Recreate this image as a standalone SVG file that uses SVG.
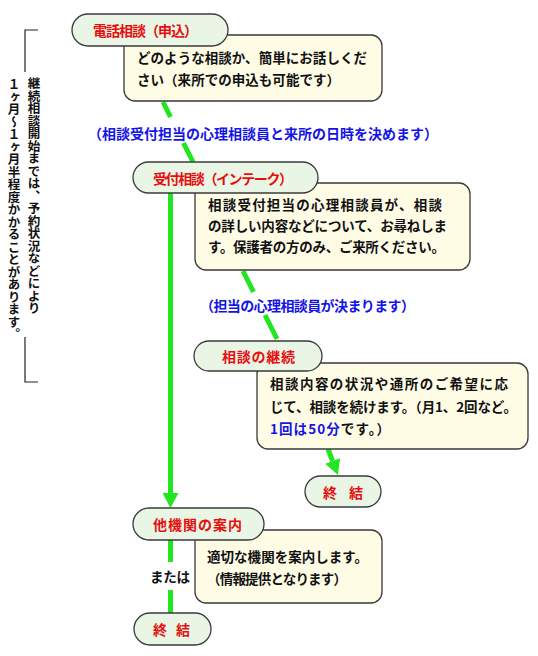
<svg xmlns="http://www.w3.org/2000/svg" width="538" height="656" viewBox="0 0 538 656">
<style>
.pill{fill:#e9f6e5;stroke:#3a3a3a;stroke-width:1.3}
.box{fill:#fffce6;stroke:#3a3a3a;stroke-width:1.3}
text{font-family:"Noto Sans CJK JP","Noto Sans CJK SC",sans-serif;font-weight:bold;dominant-baseline:central}
.red{fill:#e60f0f;font-size:14px}
.body{fill:#111;font-size:13.5px}
.blue{fill:#1414e6;font-size:14px}
.vt{fill:#111;font-size:12.5px;writing-mode:vertical-rl}
.ln{stroke:#22e622;stroke-width:5;fill:none}
.br{stroke:#222;stroke-width:1.2;fill:none}
</style>
<defs>
<marker id="ah" viewBox="0 0 15 16" refX="0" refY="8" markerWidth="15" markerHeight="16" markerUnits="userSpaceOnUse" orient="auto">
<path d="M0,0 L15,8 L0,16 Z" fill="#22e622"/>
</marker>
</defs>
<rect width="538" height="656" fill="#fff"/>
<g id="connectors">
<line class="ln" x1="163" y1="102" x2="170.5" y2="117"/>
<line class="ln" x1="183.5" y1="143" x2="193" y2="162"/>
<line class="ln" x1="243" y1="271" x2="253.5" y2="292"/>
<line class="ln" x1="265" y1="315" x2="277" y2="339"/>
<line class="ln" x1="170.5" y1="193" x2="170.5" y2="493" marker-end="url(#ah)"/>
<line class="ln" x1="328" y1="449" x2="332.6" y2="461" marker-end="url(#ah)"/>
<line class="ln" x1="170.5" y1="540" x2="170.5" y2="562"/>
<line class="ln" x1="170.5" y1="590" x2="170.5" y2="613"/>
<text class="blue" x="88" y="133" textLength="350" lengthAdjust="spacing">（相談受付担当の心理相談員と来所の日時を決めます）</text>
<text class="blue" x="200" y="305" textLength="215" lengthAdjust="spacing">（担当の心理相談員が決まります）</text>
<text class="body" x="150" y="576" textLength="40" lengthAdjust="spacing">または</text>
</g>
<g id="note">
<path class="br" d="M38,30 H25 V72"/>
<path class="br" d="M25,337 V382 H38"/>
<text class="vt" x="34" y="77">継続相談開始までは、予約状況などにより</text>
<text class="vt" x="14" y="78">１ヶ月～１ヶ月半程度かかることがあります。</text>
</g>
<g id="node-tel">
<rect class="box" x="124" y="35" width="258" height="66" rx="11"/>
<rect class="pill" x="72" y="14" width="156" height="32" rx="16"/>
<text class="red" x="93" y="30" textLength="105" lengthAdjust="spacing">電話相談（申込）</text>
<text class="body" x="137" y="57" textLength="230" lengthAdjust="spacing">どのような相談か、簡単にお話しくだ</text>
<text class="body" x="137" y="79" textLength="203" lengthAdjust="spacing">さい（来所での申込も可能です）</text>
</g>
<g id="node-intake">
<rect class="box" x="195" y="183" width="275" height="87" rx="11"/>
<rect class="pill" x="133" y="162" width="185" height="31" rx="15.5"/>
<text class="red" x="153" y="177.5" textLength="140" lengthAdjust="spacing">受付相談（インテーク）</text>
<text class="body" x="208" y="204" textLength="234" lengthAdjust="spacing">相談受付担当の心理相談員が、相談</text>
<text class="body" x="208" y="225" textLength="239" lengthAdjust="spacing">の詳しい内容などについて、お尋ねしま</text>
<text class="body" x="208" y="246" textLength="237" lengthAdjust="spacing">す。保護者の方のみ、ご来所ください。</text>
</g>
<g id="node-continue">
<rect class="box" x="257" y="363" width="271" height="86" rx="11"/>
<rect class="pill" x="194" y="341" width="128" height="30" rx="15"/>
<text class="red" x="222" y="356" textLength="73" lengthAdjust="spacing">相談の継続</text>
<text class="body" x="270" y="383" textLength="238" lengthAdjust="spacing">相談内容の状況や通所のご希望に応</text>
<text class="body" x="270" y="406" textLength="247" lengthAdjust="spacing">じて、相談を続けます。（月1、2回など。</text>
<text class="body" x="270" y="428" textLength="120" lengthAdjust="spacing"><tspan fill="#1414e6">1回は50分</tspan>です。）</text>
</g>
<g id="node-end1">
<rect class="pill" x="305" y="476" width="76" height="31" rx="15.5"/>
<text class="red" x="323" y="491.5" textLength="40" lengthAdjust="spacing">終 結</text>
</g>
<g id="node-refer">
<rect class="box" x="195" y="530" width="187" height="73" rx="11"/>
<rect class="pill" x="133" y="508" width="131" height="32" rx="16"/>
<text class="red" x="153" y="524" textLength="89" lengthAdjust="spacing">他機関の案内</text>
<text class="body" x="207" y="556" textLength="161" lengthAdjust="spacing">適切な機関を案内します。</text>
<text class="body" x="207" y="578" textLength="140" lengthAdjust="spacing">（情報提供となります）</text>
</g>
<g id="node-end2">
<rect class="pill" x="134" y="613" width="77" height="32" rx="16"/>
<text class="red" x="153" y="629" textLength="37" lengthAdjust="spacing">終 結</text>
</g>
</svg>
